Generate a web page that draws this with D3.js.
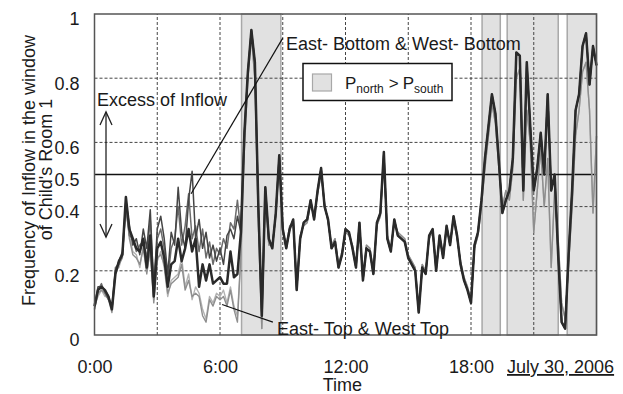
<!DOCTYPE html>
<html>
<head>
<meta charset="utf-8">
<script src="https://cdn.jsdelivr.net/npm/d3@7"></script>
<style>
  html, body { margin: 0; padding: 0; background: #fff; }
  svg { display: block; font-family: "Liberation Sans", Arial, sans-serif; }
</style>
</head>
<body>
<svg width="623" height="394"></svg>
<script>
// one reading every 10 minutes, 0:00 .. 24:00
const stepMinutes = 10;

// 0:00 - 6:50, where the windows differ
const middleEarly = [0.09,0.14,0.15,0.14,0.12,0.08,0.19,0.23,0.25,0.43,0.33,0.30,0.27,0.26,0.30,0.21,0.31,0.12,0.27,0.29,0.24,0.15,0.22,0.23,0.30,0.23,0.27,0.33,0.26,0.30,0.15,0.22,0.17,0.22,0.16,0.17,0.18,0.16,0.16,0.26,0.18,0.19];
const eastBottomEarly = [0.09,0.15,0.15,0.14,0.12,0.08,0.20,0.23,0.26,0.42,0.34,0.28,0.30,0.25,0.33,0.27,0.39,0.14,0.33,0.37,0.30,0.19,0.32,0.28,0.46,0.32,0.27,0.42,0.51,0.30,0.36,0.27,0.32,0.24,0.28,0.23,0.27,0.22,0.31,0.33,0.30,0.37];
const westBottomEarly = [0.08,0.14,0.16,0.13,0.11,0.09,0.21,0.22,0.25,0.40,0.31,0.30,0.26,0.28,0.29,0.24,0.36,0.16,0.30,0.33,0.27,0.17,0.27,0.30,0.40,0.28,0.34,0.44,0.30,0.34,0.26,0.33,0.24,0.29,0.22,0.27,0.25,0.30,0.27,0.35,0.33,0.42];
const eastTopEarly = [0.08,0.13,0.14,0.13,0.11,0.07,0.19,0.22,0.24,0.41,0.30,0.25,0.24,0.22,0.27,0.19,0.27,0.10,0.24,0.25,0.22,0.13,0.16,0.17,0.18,0.22,0.14,0.17,0.12,0.13,0.12,0.06,0.04,0.11,0.09,0.12,0.11,0.12,0.09,0.14,0.08,0.04];
const westTopEarly = [0.09,0.12,0.14,0.12,0.12,0.08,0.20,0.21,0.25,0.39,0.31,0.26,0.25,0.21,0.28,0.20,0.26,0.11,0.23,0.26,0.21,0.12,0.17,0.18,0.19,0.24,0.15,0.19,0.11,0.15,0.13,0.08,0.05,0.12,0.10,0.13,0.12,0.14,0.10,0.15,0.09,0.06];

// 7:00 - 24:00, the lines mostly run together
const lateBottom = [
  0.32,0.63,0.82,0.95,0.85,0.40,0.06,0.46,0.30,0.27,
  0.38,0.56,0.33,0.27,0.33,0.36,0.14,0.30,0.35,0.36,
  0.42,0.36,0.45,0.52,0.40,0.36,0.27,0.29,0.21,0.25,
  0.33,0.32,0.27,0.21,0.35,0.17,0.27,0.26,0.19,0.35,
  0.38,0.57,0.30,0.26,0.36,0.31,0.30,0.29,0.24,0.22,
  0.20,0.07,0.21,0.19,0.31,0.33,0.20,0.31,0.24,0.34,
  0.28,0.37,0.31,0.22,0.17,0.14,0.10,0.28,0.32,0.42,
  0.55,0.65,0.75,0.69,0.54,0.38,0.42,0.45,0.55,0.88,
  0.87,0.45,0.85,0.65,0.45,0.52,0.63,0.50,0.75,0.45,
  0.50,0.25,0.04,0.02,0.25,0.45,0.70,0.75,0.90,0.94,
  0.78,0.90,0.84];
const lateTop = [
  0.25,0.58,0.80,0.93,0.80,0.35,0.02,0.44,0.28,0.28,
  0.37,0.54,0.32,0.28,0.34,0.35,0.15,0.31,0.34,0.35,
  0.41,0.37,0.44,0.50,0.41,0.35,0.28,0.30,0.22,0.26,
  0.32,0.31,0.28,0.22,0.34,0.18,0.28,0.27,0.20,0.34,
  0.37,0.55,0.31,0.27,0.35,0.32,0.31,0.30,0.25,0.23,
  0.21,0.08,0.22,0.20,0.30,0.32,0.21,0.30,0.25,0.33,
  0.29,0.36,0.30,0.23,0.18,0.15,0.11,0.27,0.31,0.40,
  0.52,0.62,0.72,0.66,0.52,0.40,0.45,0.42,0.52,0.80,
  0.83,0.42,0.70,0.60,0.32,0.45,0.58,0.40,0.55,0.21,
  0.45,0.30,0.10,0.05,0.22,0.40,0.62,0.70,0.82,0.85,
  0.70,0.38,0.62];

// periods with P north > P south (hours)
const northStart = [7.03, 18.53, 19.73, 22.6];
const northEnd = [8.91, 19.4, 22.17, 24];

const yTicks = [0, 0.2, 0.4, 0.5, 0.6, 0.8, 1];
const yTickLabels = ['0', '0.2', '0.4', '0.5', '0.6', '0.8', '1'];
const yGrid = [0.2, 0.4, 0.6, 0.8];
const xGrid = [3, 6, 9, 12, 15, 18, 21];
const xTicks = [0, 6, 12, 18];
const xTickLabels = ['0:00', '6:00', '12:00', '18:00'];

const series = [
  { name: 'West-Top', values: westTopEarly.concat(lateTop), color: '#b2b2b2', width: 1.4 },
  { name: 'East-Top', values: eastTopEarly.concat(lateTop), color: '#8e8e8e', width: 1.4 },
  { name: 'West-Bottom', values: westBottomEarly.concat(lateBottom), color: '#6c6c6c', width: 1.5 },
  { name: 'East-Bottom', values: eastBottomEarly.concat(lateBottom), color: '#454545', width: 1.5 },
  { name: 'Middle', values: middleEarly.concat(lateBottom), color: '#2a2a2a', width: 2.5 },
];

const fontSize = 18;
const textColor = '#1a1a1a';

const svg = d3.select('svg');
const x = d3.scaleLinear().domain([0, 24]).range([94.5, 596.5]);
const y = d3.scaleLinear().domain([0, 1]).range([335, 14]);

// shaded periods
svg.append('g').selectAll('rect')
  .data(northStart)
  .join('rect')
  .attr('x', (d) => x(d))
  .attr('width', (d, i) => x(northEnd[i]) - x(d))
  .attr('y', y(1))
  .attr('height', y(0) - y(1))
  .attr('fill', '#e1e1e1')
  .attr('stroke', '#a8a8a8')
  .attr('stroke-width', 1.5);

// dotted grid
const grid = svg.append('g')
  .attr('stroke', '#444')
  .attr('stroke-width', 1)
  .attr('stroke-dasharray', '3,2');
grid.selectAll('.gy').data(yGrid).join('line')
  .attr('class', 'gy')
  .attr('x1', x(0)).attr('x2', x(24))
  .attr('y1', (d) => y(d)).attr('y2', (d) => y(d));
grid.selectAll('.gx').data(xGrid).join('line')
  .attr('class', 'gx')
  .attr('x1', (d) => x(d)).attr('x2', (d) => x(d))
  .attr('y1', y(0)).attr('y2', y(1));

// the 0.5 line
svg.append('line')
  .attr('x1', x(0)).attr('x2', x(24))
  .attr('y1', y(0.5)).attr('y2', y(0.5))
  .attr('stroke', '#111')
  .attr('stroke-width', 1.5);

// data
const line = d3.line()
  .x((d, i) => x(i * stepMinutes / 60))
  .y((d) => y(d));
svg.append('g').selectAll('path')
  .data(series)
  .join('path')
  .attr('d', (s) => line(s.values))
  .attr('fill', 'none')
  .attr('stroke', (s) => s.color)
  .attr('stroke-width', (s) => s.width)
  .attr('stroke-linejoin', 'round');

// frame
svg.append('rect')
  .attr('x', x(0)).attr('y', y(1))
  .attr('width', x(24) - x(0)).attr('height', y(0) - y(1))
  .attr('fill', 'none')
  .attr('stroke', '#555')
  .attr('stroke-width', 1.5);

// axes
const yAxis = svg.append('g')
  .attr('transform', 'translate(' + x(0) + ',0)')
  .call(d3.axisLeft(y).tickValues(yTicks)
    .tickFormat((d, i) => yTickLabels[i]).tickSize(0).tickPadding(15));
const xAxis = svg.append('g')
  .attr('transform', 'translate(0,' + y(0) + ')')
  .call(d3.axisBottom(x).tickValues(xTicks)
    .tickFormat((d, i) => xTickLabels[i]).tickSize(0).tickPadding(25));
[yAxis, xAxis].forEach((a) => {
  a.select('.domain').remove();
  a.selectAll('text')
    .attr('font-size', fontSize)
    .attr('font-family', '"Liberation Sans", Arial, sans-serif')
    .attr('fill', textColor);
});
yAxis.selectAll('text').attr('dy', '0.6em');

svg.append('text')
  .attr('x', 507).attr('y', y(0) + 38)
  .attr('font-size', fontSize)
  .attr('fill', textColor)
  .attr('text-decoration', 'underline')
  .text('July 30, 2006');

svg.append('text')
  .attr('x', x(11.85)).attr('y', 391)
  .attr('text-anchor', 'middle')
  .attr('font-size', fontSize)
  .attr('fill', textColor)
  .text('Time');

// y title, two lines
const midY = (y(0) + y(1)) / 2;
[['Frequency of Inflow in the window', 35, midY - 4], ["of Child's Room 1", 52, midY - 5]].forEach(([t, bx, cy]) => {
  svg.append('text')
    .attr('transform', 'translate(' + bx + ',' + cy + ') rotate(-90)')
    .attr('text-anchor', 'middle')
    .attr('font-size', fontSize)
    .attr('fill', textColor)
    .text(t);
});

// annotations
const ann = svg.append('g')
  .attr('font-size', fontSize)
  .attr('fill', textColor);
ann.append('text').attr('x', 97).attr('y', 106).text('Excess of Inflow');
ann.append('text').attr('x', 286).attr('y', 50).text('East- Bottom & West- Bottom');
ann.append('text').attr('x', 277).attr('y', 335).text('East- Top & West Top');

const leaders = svg.append('g')
  .attr('stroke', '#111')
  .attr('stroke-width', 1.2);
leaders.append('line')
  .attr('x1', x(4.62)).attr('y1', y(0.44))
  .attr('x2', x(9.0)).attr('y2', y(0.925));
leaders.append('line')
  .attr('x1', x(6.1)).attr('y1', y(0.095))
  .attr('x2', x(8.53)).attr('y2', y(0.04));

// double arrow
const ax = x(0.55);
const aTop = y(0.695);
const aBot = y(0.305);
const arrow = svg.append('g')
  .attr('stroke', '#222')
  .attr('stroke-width', 1.3)
  .attr('fill', 'none');
arrow.append('line').attr('x1', ax).attr('x2', ax).attr('y1', aTop).attr('y2', aBot);
arrow.append('path').attr('d', 'M' + (ax - 6) + ',' + (aTop + 13) + 'L' + ax + ',' + aTop + 'L' + (ax + 6) + ',' + (aTop + 13));
arrow.append('path').attr('d', 'M' + (ax - 6) + ',' + (aBot - 13) + 'L' + ax + ',' + aBot + 'L' + (ax + 6) + ',' + (aBot - 13));

// legend
const legend = svg.append('g').attr('transform', 'translate(303,63.5)');
legend.append('rect')
  .attr('width', 149).attr('height', 37)
  .attr('fill', '#fff')
  .attr('stroke', '#111')
  .attr('stroke-width', 1.5);
legend.append('rect')
  .attr('x', 9.5).attr('y', 10.5)
  .attr('width', 19).attr('height', 17)
  .attr('fill', '#e1e1e1')
  .attr('stroke', '#a8a8a8')
  .attr('stroke-width', 1.2);
const lt = legend.append('text')
  .attr('x', 42).attr('y', 25.5)
  .attr('font-size', 17)
  .attr('fill', textColor);
lt.append('tspan').text('P');
lt.append('tspan').attr('font-size', 12).attr('dy', 4).text('north');
lt.append('tspan').attr('dy', -4).attr('dx', 5).text('>');
lt.append('tspan').attr('dx', 4).text('P');
lt.append('tspan').attr('font-size', 12).attr('dy', 4).text('south');
</script>
</body>
</html>
